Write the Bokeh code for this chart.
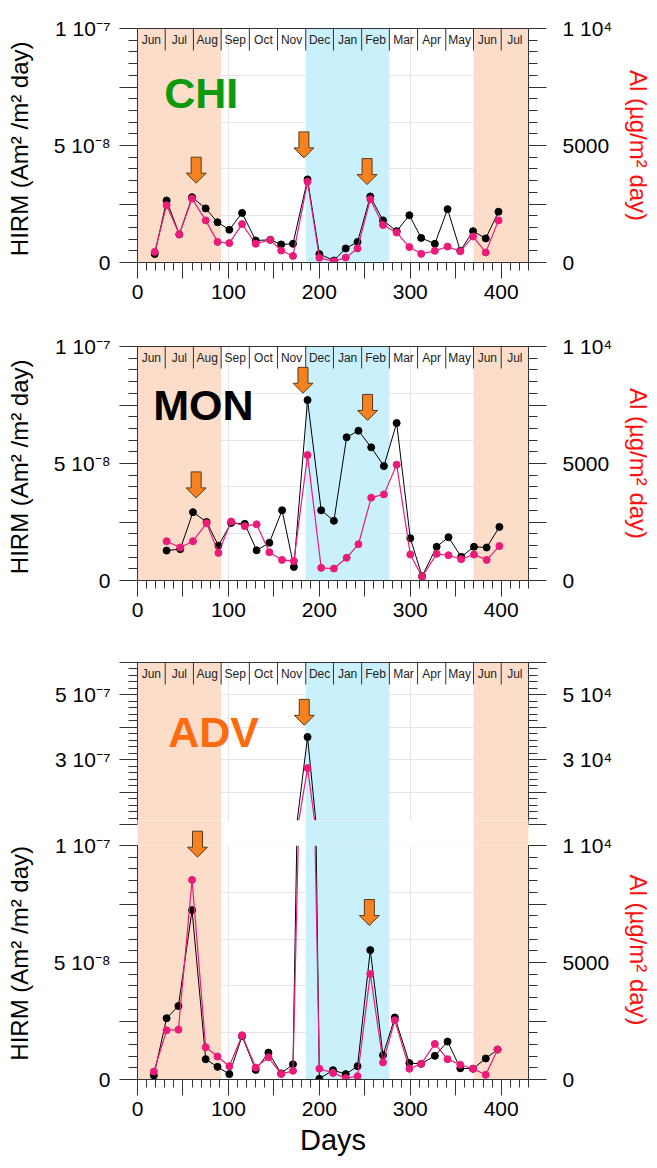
from bokeh.plotting import figure
from bokeh.models import Range1d, LinearAxis, FixedTicker
from bokeh.layouts import column
from bokeh.embed import file_html
from bokeh.resources import INLINE
from bokeh.core.properties import value

# ---------------------------------------------------------------- data
months = ["Jun", "Jul", "Aug", "Sep", "Oct", "Nov", "Dec", "Jan", "Feb",
          "Mar", "Apr", "May", "Jun", "Jul"]
month_edges = [0, 30.5, 61.5, 92, 123, 154, 185, 215.5, 246.5, 277, 308,
               339, 369.5, 400, 430]
season_left = [0, 185, 369.5]
season_right = [92, 277, 430]
season_colors = ["#FBDDCA", "#C9F0FB", "#FBDDCA"]

# HIRM flux in units of 1e-8 Am2/m2 day ; Al flux in ug/m2 day
days_chi = [19, 32, 46, 60, 75, 88, 101, 115, 130, 146, 158, 171, 187, 200,
            216, 229, 242, 256, 270, 285, 299, 312, 327, 341, 355, 369, 383, 397]
hirm_chi = [0.36, 2.65, 1.20, 2.79, 2.31, 1.72, 1.40, 2.12, 0.94, 0.97, 0.77,
            0.80, 3.55, 0.36, 0.085, 0.60, 0.88, 2.82, 1.80, 1.34, 2.02, 1.05,
            0.80, 2.28, 0.50, 1.34, 1.03, 2.17]
al_chi = [456, 2450, 1200, 2730, 1800, 880, 830, 1640, 800, 970, 510, 280,
          3450, 200, 50, 210, 600, 2700, 1600, 1280, 660, 370, 500, 680, 480,
          1110, 430, 1800]

days_mon = [32, 47, 61, 76, 89, 103, 118, 131, 145, 159, 172, 187, 202, 216,
            230, 243, 257, 271, 285, 300, 313, 329, 342, 356, 370, 384, 398]
hirm_mon = [1.28, 1.34, 2.92, 2.50, 1.49, 2.46, 2.42, 1.29, 1.61, 3.00, 0.58,
            7.71, 3.00, 2.55, 6.12, 6.40, 5.69, 4.89, 6.73, 1.81, 0.18, 1.44,
            1.85, 1.01, 1.44, 1.41, 2.29]
al_mon = [1680, 1410, 1680, 2450, 1180, 2520, 2320, 2400, 1210, 880, 830,
          5360, 540, 510, 970, 1550, 3540, 3680, 4950, 1110, 160, 1140, 1080,
          910, 1110, 880, 1470]

days_adv = [18, 32, 45, 60, 75, 88, 101, 115, 130, 144, 158, 171, 187, 200,
            215, 229, 242, 256, 270, 283, 299, 312, 327, 341, 355, 369, 383, 396]
hirm_adv = [0.17, 2.62, 3.14, 7.24, 0.87, 0.54, 0.23, 1.85, 0.41, 1.15, 0.26,
            0.65, 37.0, 0.03, 0.40, 0.23, 0.57, 5.53, 1.04, 2.65, 0.70, 0.67,
            1.01, 1.62, 0.48, 0.46, 0.90, 1.28]
al_adv = [340, 2100, 2130, 8530, 1380, 980, 570, 1890, 510, 950, 230, 370,
          27400, 460, 280, 60, 140, 4510, 730, 2530, 460, 670, 1520, 870, 630,
          460, 200, 1280]

# arrows: day and tip height (HIRM units)
arrow_chi_day, arrow_chi_tip = [64.5, 183, 252.5], [3.39, 4.47, 3.33]
arrow_mon_day, arrow_mon_tip = [64.5, 182, 253], [3.53, 8.00, 6.84]
arrow_advup_day, arrow_advup_tip = [183.4], [40.6]
arrow_advlo_day, arrow_advlo_tip = [66, 255], [9.50, 6.58]

# axis ticks and labels
day_ticks = [0, 50, 100, 150, 200, 250, 300, 350, 400]
day_minor = list(range(0, 431, 10))
day_labels = {0: "0", 100: "100", 200: "200", 300: "300", 400: "400"}
hirm_ticks = [0, 2.5, 5, 7.5, 10]
hirm_minor = [i * 0.5 for i in range(21)]
hirm_labels = {0: "0", 5: "5 10⁻⁸", 10: "1 10⁻⁷"}
al_ticks = [0, 2500, 5000, 7500, 10000]
al_minor = list(range(0, 10001, 500))
al_labels = {0: "0", 5000: "5000", 10000: "1 10⁴"}
hirm_ticks_up = [10, 20, 30, 40, 50, 60]
hirm_minor_up = list(range(10, 61, 2))
hirm_labels_up = {30: "3 10⁻⁷", 50: "5 10⁻⁷"}
al_ticks_up = [10000, 20000, 30000, 40000, 50000, 60000]
al_minor_up = list(range(10000, 60001, 2000))
al_labels_up = {30000: "3 10⁴", 50000: "5 10⁴"}

hirm_title = "HIRM (Am² /m²  day)"
al_title = "Al (µg/m² day)"

# ---------------------------------------------------------------- style
FONT = "Liberation Sans"
W = 657
ML, MR = 137, 129
PPX = (W - ML - MR) / 430.0
AX = "#333333"
PINK = "#EC1B7A"
WHITE = "#FFFFFF"
ARROW_FILL = "#F5821F"
ARROW_LINE = "#5a3a1c"


def panel(height, b_top, b_bottom, yr, ar, clear=False):
    p = figure(width=W, height=height, x_range=Range1d(0, 430),
               y_range=Range1d(*yr), x_axis_location=None,
               y_axis_location=None, toolbar_location=None, title=None,
               output_backend="svg", min_border_left=ML,
               min_border_right=MR, min_border_top=b_top,
               min_border_bottom=b_bottom)
    p.extra_y_ranges = {"al": Range1d(*ar)}
    p.outline_line_color = None
    if clear:
        p.background_fill_color = None
        p.border_fill_color = None
    else:
        p.background_fill_color = "white"
        p.border_fill_color = "white"
    pad = (yr[1] - yr[0]) * 0.02  # shading fills the whole frame (clipped)
    p.quad(left=season_left, right=season_right, bottom=yr[0] - pad,
           top=yr[1] + pad, fill_color=season_colors, line_color=None)
    return p


def style(ax, tout, mout, size, standoff):
    ax.axis_line_color = AX
    ax.axis_line_width = 1
    ax.major_tick_line_color = AX
    ax.minor_tick_line_color = AX
    ax.major_tick_in = 0
    ax.major_tick_out = tout
    ax.minor_tick_in = 0
    ax.minor_tick_out = mout
    ax.major_label_text_font = FONT
    ax.major_label_text_font_size = size
    ax.major_label_text_color = "black"
    ax.major_label_standoff = standoff
    ax.axis_label_text_font = FONT
    ax.axis_label_text_font_style = "normal"


def y_axes(p, ht, hm, hl, at, am, al, titles=False, bounds=None):
    lax = LinearAxis(ticker=FixedTicker(ticks=ht, minor_ticks=hm),
                     major_label_overrides={t: hl.get(t, "") for t in ht})
    style(lax, 18, 9, "21px", 9)
    rax = LinearAxis(y_range_name="al",
                     ticker=FixedTicker(ticks=at, minor_ticks=am),
                     major_label_overrides={t: al.get(t, "") for t in at})
    style(rax, 18, 9, "21px", 16)
    if bounds is not None:
        lax.bounds = bounds[0]
        rax.bounds = bounds[1]
    if titles:
        lax.axis_label = hirm_title
        lax.axis_label_text_font_size = "24px"
        lax.axis_label_standoff = 18
        lax.axis_label_text_color = "black"
        rax.axis_label = al_title
        rax.axis_label_text_font_size = "24px"
        rax.axis_label_standoff = 10
        rax.axis_label_text_color = "#FF1010"
    p.add_layout(lax, "left")
    p.add_layout(rax, "right")


def top_line(p):
    ax = LinearAxis(ticker=FixedTicker(ticks=[]))
    ax.axis_line_color = AX
    ax.major_tick_line_color = None
    ax.minor_tick_line_color = None
    ax.major_label_text_font_size = "0px"
    p.add_layout(ax, "above")


def x_axis(p, title=None):
    ax = LinearAxis(ticker=FixedTicker(ticks=day_ticks, minor_ticks=day_minor),
                    major_label_overrides={t: day_labels.get(t, "")
                                           for t in day_ticks})
    style(ax, 16, 8, "21px", 6)
    if title:
        ax.axis_label = title
        ax.axis_label_text_font_size = "29px"
        ax.axis_label_standoff = 5
        ax.axis_label_text_color = "black"
    p.add_layout(ax, "below")


def month_row(p, top, ppu):
    n = len(month_edges) - 2
    p.segment(x0=month_edges[1:-1], x1=month_edges[1:-1], y0=[top] * n,
              y1=[top - 22 / ppu] * n, line_color=AX, line_width=1)
    centers = [(a + b) / 2 for a, b in zip(month_edges[:-1], month_edges[1:])]
    p.text(x=centers, y=[top - 11 / ppu] * len(centers), text=months,
           text_align="center", text_baseline="middle",
           text_font=value(FONT), text_font_size="12px", text_color="#222222")


def series(p, d, h, a):
    p.line(d, h, line_color="black", line_width=1)
    p.scatter(d, h, size=7, fill_color="black", line_color="black")
    p.line(d, a, y_range_name="al", line_color=PINK, line_width=1.2)
    p.scatter(d, a, y_range_name="al", size=7, fill_color=PINK,
              line_color=PINK)


def arrows(p, days, tips, ppu):
    sw, hw = 5 / PPX, 10 / PPX
    H, hh = 26 / ppu, 10 / ppu
    xs, ys = [], []
    for d, t in zip(days, tips):
        xs.append([d - sw, d + sw, d + sw, d + hw, d, d - hw, d - sw])
        ys.append([t + H, t + H, t + hh, t + hh, t, t + hh, t + hh])
    p.patches(xs, ys, fill_color=ARROW_FILL, line_color=ARROW_LINE,
              line_width=1)


def name(p, x, y, txt, color):
    p.text(x=[x], y=[y], text=[txt], text_font=value(FONT),
           text_font_size="43px", text_font_style="bold", text_color=color,
           text_align="left", text_baseline="middle")


def break_band(p, lo, hi):
    # axis break: band that keeps only the seasonal shading
    p.quad(left=[0, season_right[0], season_right[1]],
           right=[season_left[1], season_left[2], 430],
           bottom=lo, top=hi, fill_color=WHITE, line_color=None)
    p.quad(left=season_left, right=season_right, bottom=lo, top=hi,
           fill_color=season_colors, line_color=None)


# ---------------------------------------------------------------- CHI
PPU = 234 / 10.0
p1 = panel(315, 28, 53, (0, 10), (0, 10000))
month_row(p1, 10, PPU)
series(p1, days_chi, hirm_chi, al_chi)
arrows(p1, arrow_chi_day, arrow_chi_tip, PPU)
name(p1, 29.4, 7.24, "CHI", "#0C990C")
y_axes(p1, hirm_ticks, hirm_minor, hirm_labels, al_ticks, al_minor, al_labels,
       titles=True)
top_line(p1)
x_axis(p1)

# ---------------------------------------------------------------- MON
p2 = panel(315, 31, 50, (0, 10), (0, 10000))
month_row(p2, 10, PPU)
series(p2, days_mon, hirm_mon, al_mon)
arrows(p2, arrow_mon_day, arrow_mon_tip, PPU)
name(p2, 17.3, 7.52, "MON", "#000000")
y_axes(p2, hirm_ticks, hirm_minor, hirm_labels, al_ticks, al_minor, al_labels,
       titles=True)
top_line(p2)
x_axis(p2)

# ---------------------------------------------------------------- ADV upper
PPU_UP = 162 / 50.0
lo3 = 10 - 2 / PPU_UP          # frame reaches 2 px into the axis break
H3 = 196
p3 = panel(H3, 32, 0, (lo3, 60), (1000 * lo3, 60000), clear=True)
month_row(p3, 60, PPU_UP)
series(p3, days_adv, hirm_adv, al_adv)
break_band(p3, lo3 - 1, 10)
arrows(p3, arrow_advup_day, arrow_advup_tip, PPU_UP)
name(p3, 33.8, 38.7, "ADV", "#FF6A0E")
y_axes(p3, hirm_ticks_up, hirm_minor_up, hirm_labels_up, al_ticks_up,
       al_minor_up, al_labels_up, bounds=((10, 60), (10000, 60000)))
top_line(p3)

# ---------------------------------------------------------------- ADV lower
# transparent figure laid over the upper one; its frame starts 6 px above
# the break so both halves of the axis break overlap
OVER = 6
top5 = 10 * (253 + OVER) / 234.0
B4 = H3 - OVER
p4 = panel(B4 + 259 + 89, B4, 89, (0, top5), (0, 1000 * top5), clear=True)
p4.margin = (-H3, 0, 0, 0)
series(p4, days_adv, hirm_adv, al_adv)
break_band(p4, 10, top5 + 1)
arrows(p4, arrow_advlo_day, arrow_advlo_tip, PPU)
y_axes(p4, hirm_ticks, hirm_minor, hirm_labels, al_ticks, al_minor, al_labels,
       titles=True, bounds=((0, 10), (0, 10000)))
x_axis(p4, "Days")

layout = column(p1, p2, p3, p4, spacing=0)
open("out.html", "w").write(file_html(layout, INLINE))
